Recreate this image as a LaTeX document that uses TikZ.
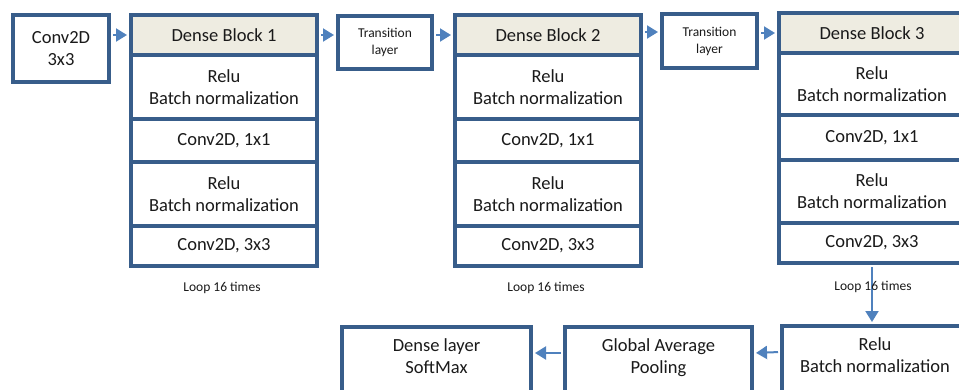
\documentclass[tikz,border=0pt]{standalone}
\usepackage{fontspec}
\setmainfont{Carlito}
\usetikzlibrary{arrows.meta}
\definecolor{frame}{HTML}{385D8A}
\definecolor{head}{HTML}{EEECE1}
\definecolor{link}{HTML}{4F81BD}
\definecolor{ink}{HTML}{1A1A1A}
% two centred lines, set a little above the middle of a tall box
\newcommand{\twolines}[2]{\raisebox{-1.5pt}[0pt][0pt]{\begin{tabular}{@{}c@{}}#1\\#2\end{tabular}}}
\begin{document}
\begin{tikzpicture}[x=1pt,y=-1pt,
  box/.style={draw=frame,line width=4pt,fill=white,inner sep=0pt,
    anchor=north west,align=center,text=ink,
    font=\fontsize{18.5}{22}\selectfont},
  tallbox/.style={draw=frame,line width=4pt,fill=white,inner sep=0pt,
    anchor=north west,text=ink,minimum height=68pt,
    font=\fontsize{18.5}{22}\selectfont},
  small/.style={font=\fontsize{13.5}{17}\selectfont},
  hdr/.style={fill=head},
  flow/.style={draw=link,line width=2pt,shorten >=2pt,shorten <=2pt,
    -{Triangle[length=11pt,width=13pt]}},
  note/.style={text=ink,font=\fontsize{13.5}{16}\selectfont}]
\useasboundingbox (0,0) rectangle (959,389);
\clip (0,0) rectangle (959,389);

% input convolution
\node[box,minimum width=96pt,minimum height=67pt] (conv) at (11,13) {Conv2D\\3x3};

% dense block 1
\node[box,hdr,minimum width=186pt,minimum height=40pt] (b1h) at (129,13) {Dense Block 1};
\node[box,minimum width=186pt,minimum height=64pt] (b1a) at (129,53) {Relu\\Batch normalization};
\node[box,minimum width=186pt,minimum height=43pt] (b1b) at (129,117) {Conv2D, 1x1};
\node[box,minimum width=186pt,minimum height=64pt] (b1c) at (129,160) {Relu\\Batch normalization};
\node[box,minimum width=186pt,minimum height=40pt] (b1d) at (129,224) {Conv2D, 3x3};

% transition 1
\node[box,small,minimum width=94pt,minimum height=53pt] (t1) at (336,14) {Transition\\layer};

% dense block 2
\node[box,hdr,minimum width=186pt,minimum height=40pt] (b2h) at (453,13) {Dense Block 2};
\node[box,minimum width=186pt,minimum height=64pt] (b2a) at (453,53) {Relu\\Batch normalization};
\node[box,minimum width=186pt,minimum height=43pt] (b2b) at (453,117) {Conv2D, 1x1};
\node[box,minimum width=186pt,minimum height=64pt] (b2c) at (453,160) {Relu\\Batch normalization};
\node[box,minimum width=186pt,minimum height=40pt] (b2d) at (453,224) {Conv2D, 3x3};

% transition 2
\node[box,small,minimum width=95pt,minimum height=54pt] (t2) at (660,12) {Transition\\layer};

% dense block 3
\node[box,hdr,minimum width=186pt,minimum height=40pt] (b3h) at (777,11) {Dense Block 3};
\node[box,minimum width=186pt,minimum height=62pt] (b3a) at (777,51) {Relu\\Batch normalization};
\node[box,minimum width=186pt,minimum height=45pt] (b3b) at (777,113) {Conv2D, 1x1};
\node[box,minimum width=186pt,minimum height=63pt] (b3c) at (777,158) {Relu\\Batch normalization};
\node[box,minimum width=186pt,minimum height=40pt] (b3d) at (777,221) {Conv2D, 3x3};

% output stage (boxes run past the lower edge)
\node[tallbox,minimum width=186pt] (bn) at (780,324) {\twolines{Relu}{Batch normalization}};
\node[tallbox,minimum width=187pt] (gap) at (563,325) {\twolines{Global Average}{Pooling}};
\node[tallbox,minimum width=189pt] (out) at (340,325) {\twolines{Dense layer}{SoftMax}};

% connectors
\draw[flow] (conv.east |- b1h) -- (b1h.west);
\draw[flow] (b1h.east) -- (t1.west |- b1h);
\draw[flow] (t1.east |- b2h) -- (b2h.west);
\draw[flow] ([yshift=3pt]b2h.east) -- ([yshift=3pt]t2.west |- b2h);
\draw[flow] (t2.east |- b3h) -- (b3h.west);
\draw[flow] (b3d.south) -- (bn.north -| b3d.south);
\draw[flow] ([yshift=8pt]bn.west) -- ([yshift=8pt]gap.east);
\draw[flow] ([yshift=8pt]gap.west) -- ([yshift=8pt]out.east);

% loop annotations
\node[note] (l1) at (222,288) {Loop 16 times};
\node[note] (l2) at (546,288) {Loop 16 times};
\node[note] (l3) at (873,287) {Loop 16 times};
\end{tikzpicture}
\end{document}
